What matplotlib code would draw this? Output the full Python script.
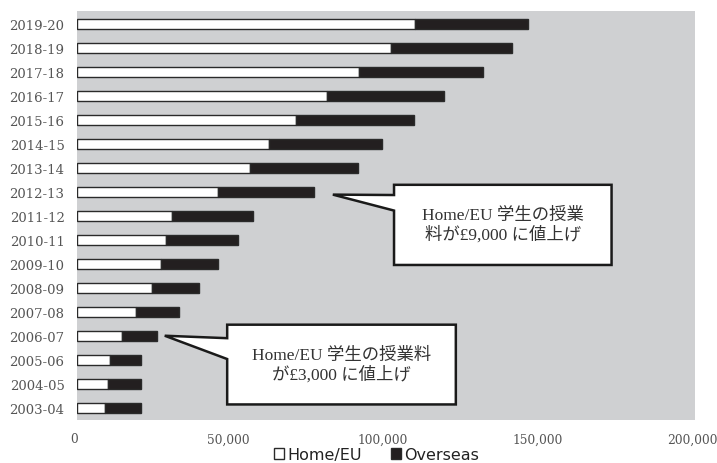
import matplotlib
matplotlib.use("Agg")
import matplotlib.pyplot as plt
from matplotlib.patches import Polygon
from matplotlib.transforms import ScaledTranslation

# Student numbers by academic year
years = ["2003-04", "2004-05", "2005-06", "2006-07", "2007-08", "2008-09",
         "2009-10", "2010-11", "2011-12", "2012-13", "2013-14", "2014-15",
         "2015-16", "2016-17", "2017-18", "2018-19", "2019-20"]
home_eu = [9200, 10100, 10600, 14700, 19200, 24400, 27100, 28800, 30900,
           45500, 56000, 62000, 70800, 80800, 91300, 101500, 109400]
overseas = [11400, 10500, 10000, 11300, 13700, 15000, 18600, 23400, 25900,
            31100, 34800, 36700, 38400, 38100, 40000, 39300, 36600]
x_ticks = [0, 50000, 100000, 150000, 200000]

note_9000 = "Home/EU 学生の授業\n料が£9,000 に値上げ"
note_3000 = "Home/EU 学生の授業料\nが£3,000 に値上げ"

serif = ["DejaVu Serif", "Noto Sans CJK JP"]
cjk = ["Liberation Serif", "Noto Sans CJK JP"]

fig = plt.figure(figsize=(7.17, 4.64), dpi=100)
ax = fig.add_axes([0.1074, 0.0927, 0.8619, 0.8815])
ax.set_facecolor("#cfd0d2")

ypos = range(len(years))
ax.barh(ypos, home_eu, height=0.44, color="white", edgecolor="#2a2a2a",
        linewidth=1.0, label="Home/EU")
ax.barh(ypos, overseas, left=home_eu, height=0.44, color="#231f20",
        edgecolor="#2a2a2a", linewidth=1.0, label="Overseas")

ax.set_xlim(0, 200000)
ax.set_ylim(-0.5, 16.55)
ax.set_xticks(x_ticks)
ax.set_xticklabels([f"{v:,}" for v in x_ticks], family=serif, fontsize=8.8,
                   color="#555555")
ax.set_yticks(list(ypos))
ax.set_yticklabels(years, family=serif, fontsize=9.5, color="#555555")
ax.tick_params(length=0, pad=9)
ax.tick_params(axis="x", pad=9)
# labels in the original sit a touch left of their ticks
shift = ScaledTranslation(-3 / 100, 0, fig.dpi_scale_trans)
for lab in ax.get_xticklabels():
    lab.set_transform(lab.get_transform() + shift)
for s in ax.spines.values():
    s.set_visible(False)

leg = fig.legend(*ax.get_legend_handles_labels(), loc="center",
                 bbox_to_anchor=(0.525, 0.018), ncol=2, frameon=False,
                 fontsize=11.5, handlelength=0.65, handleheight=0.65,
                 handletextpad=0.2, columnspacing=1.8, borderaxespad=0,
                 borderpad=0)
for t in leg.get_texts():
    t.set_color("#222222")


def callout(box, tip, base, text):
    # box = (x0, x1, y0, y1) in axes fraction, pointer leaves left edge
    x0, x1, y0, y1 = box
    pts = [(x0, y1), (x1, y1), (x1, y0), (x0, y0), (x0, base[1]), tip,
           (x0, base[0])]
    ax.add_patch(Polygon(pts, closed=True, transform=ax.transAxes,
                         facecolor="white", edgecolor="#1a1a1a",
                         linewidth=1.8, zorder=5, clip_on=False))
    ax.text((x0 + x1) / 2, (y0 + y1) / 2, text, transform=ax.transAxes,
            ha="center", va="center", fontsize=12.5, family=cjk,
            color="#333333", linespacing=1.15, zorder=6)


callout((0.513, 0.865, 0.379, 0.575), (0.414, 0.551), (0.550, 0.512),
        note_9000)
callout((0.243, 0.613, 0.038, 0.233), (0.142, 0.206), (0.200, 0.149),
        note_3000)

fig.savefig("out.png", dpi=100)
